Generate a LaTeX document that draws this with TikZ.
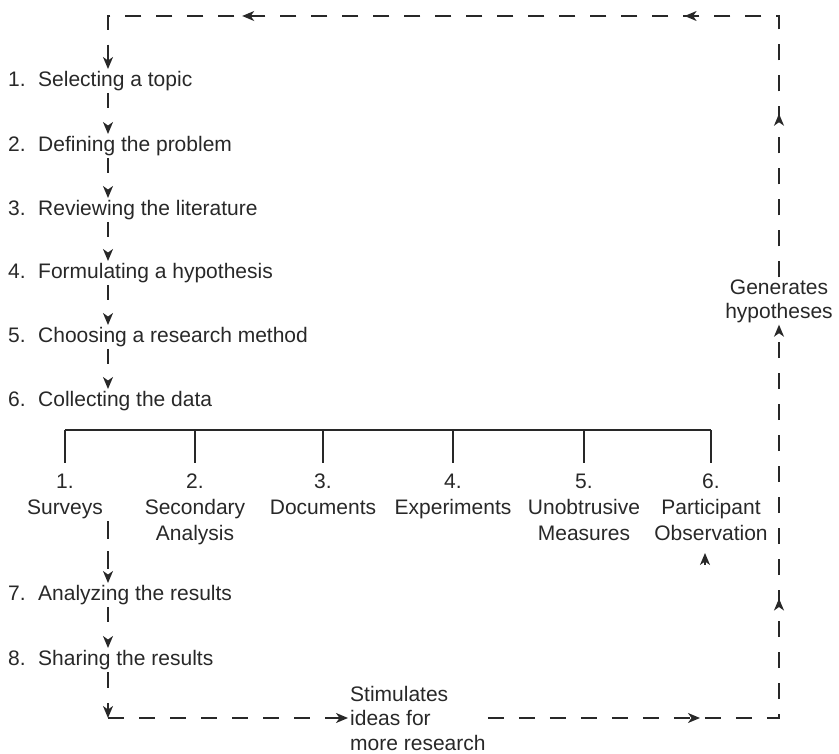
\documentclass[tikz,border=0pt]{standalone}
\usepackage{fontspec}
\setmainfont{Liberation Sans}
\usetikzlibrary{arrows.meta,decorations.markings}
\definecolor{ink}{RGB}{40,40,40}

\begin{document}
\begin{tikzpicture}[x=1pt, y=-1pt,
		every node/.style={font=\fontsize{21}{26}\selectfont, text=ink, inner sep=2pt},
		tip/.style={-{Stealth[length=12pt,width=10pt,inset=3.5pt]}},
		flow/.style={draw=ink, line width=1.4pt, dash pattern=on 15pt off 30pt, tip},
		loopline/.style={draw=ink, line width=1.4pt, dash pattern=on 16pt off 15pt},
		midtip/.style={postaction={decorate, decoration={markings,
			mark=at position #1 with {\arrow{Stealth[length=12pt,width=10pt,inset=3.5pt]}}}}},
		bar/.style={draw=ink, line width=1.6pt}]
	
	\useasboundingbox (0,0) rectangle (839,754);
	
	% --- HELPER FOR THE STEPS ---
	\newcommand{\stage}[4]{ % #1:name, #2:y, #3:number, #4:text
		\node[anchor=west] (#1) at (6,#2) {#3\hspace{12.5pt}#4};
	}
	
	% --- STEPS 1 TO 6 ---
	\stage{s1}{81}{1.}{Selecting a topic}
	\stage{s2}{146}{2.}{Defining the problem}
	\stage{s3}{210}{3.}{Reviewing the literature}
	\stage{s4}{273}{4.}{Formulating a hypothesis}
	\stage{s5}{337}{5.}{Choosing a research method}
	\stage{s6}{401}{6.}{Collecting the data}
	
	% --- RESEARCH METHODS ---
	\coordinate (barrow) at (0,430);
	\foreach \x/\n/\lbl in {65/1/{Surveys}, 195/2/{Secondary\\Analysis}, 323/3/{Documents},
		453/4/{Experiments}, 584/5/{Unobtrusive\\Measures}, 711/6/{Participant\\Observation}}
		\node[anchor=north, align=center] (m\n) at (\x,472) {\n.\\\lbl};
	\draw[bar] (m1.north |- barrow) -- (m6.north |- barrow);
	\foreach \n in {1,...,6}
		\draw[bar, shorten >=9pt] (m\n.north |- barrow) -- (m\n.north);
	
	% --- STEPS 7 AND 8 ---
	\stage{s7}{595}{7.}{Analyzing the results}
	\stage{s8}{660}{8.}{Sharing the results}
	
	% --- SIDE LABELS ---
	\node[anchor=west, align=left, font=\fontsize{21}{24.5}\selectfont] (stim) at (348,718) {Stimulates\\ideas for\\more research};
	\node[align=center, font=\fontsize{21}{24}\selectfont, fill=white] (gen) at (779,301) {Generates\\hypotheses};
	
	% --- FLOW DOWN THE LEFT ---
	\coordinate (fx) at (108,0);
	\draw[flow] (s1.south -| fx) -- (s2.north -| fx);
	\draw[flow] (s2.south -| fx) -- (s3.north -| fx);
	\draw[flow] (s3.south -| fx) -- (s4.north -| fx);
	\draw[flow] (s4.south -| fx) -- (s5.north -| fx);
	\draw[flow] (s5.south -| fx) -- (s6.north -| fx);
	\draw[flow, dash pattern=on 18pt off 12pt] (m1.south -| fx) -- (s7.north -| fx);
	\draw[flow] (s7.south -| fx) -- (s8.north -| fx);
	
	% --- FEEDBACK LOOP ---
	\coordinate (tl) at (108,16);
	\coordinate (tr) at (779,16);
	\coordinate (bl) at (108,718);
	\coordinate (br) at (779,718);
	\draw[flow, dash pattern=on 16pt off 15pt] (s8.south -| fx) -- (bl);
	\draw[loopline, tip] (bl) -- (stim);
	\draw[loopline, tip, midtip=0.31, midtip=0.6] (stim.east) -- (br) -- (gen.south);
	\draw[loopline, tip, midtip=0.166, midtip=0.361, midtip=0.81] (gen.north) -- (tr) -- (tl) -- (s1.north -| tl);
	
	% arrow under participant observation
	\coordinate (pa) at (705,565);
	\coordinate (pb) at (705,553);
	\draw[draw=ink, line width=1.4pt, tip] (pa) -- (pb);
	
\end{tikzpicture}
\end{document}
